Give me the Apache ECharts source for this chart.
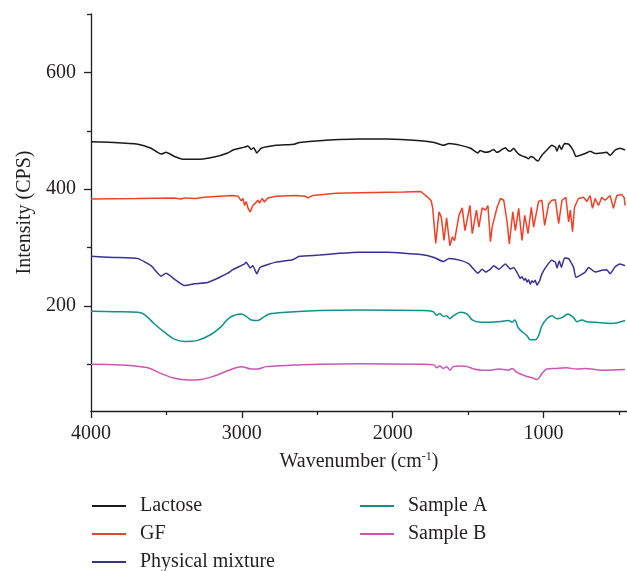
<!DOCTYPE html>
<html><head><meta charset="utf-8">
<script src="https://cdn.jsdelivr.net/npm/echarts@6/dist/echarts.min.js"></script>
<style>html,body{margin:0;padding:0;background:#fff}#c{width:627px;height:571px}</style>
</head><body><div id="c"></div>
<script>
const seriesNames = ['Lactose', 'GF', 'Physical mixture', 'Sample A', 'Sample B'];
const yLabelValues = [200, 400, 600];
const yMinorValues = [100, 300, 500, 700];
const xLabelValues = [4000, 3000, 2000, 1000];
const xMinorValues = [3500, 2500, 1500, 500];

const lactose = [[4000,481],[3850,480],[3689,477],[3602,470],[3535,460],[3502,463],[3447,456],[3381,451],[3293,451],[3183,455],[3094,462],[3059,467],[2982,472],[2960,474],[2938,468],[2921,471],[2901,462],[2872,470],[2773,475],[2652,477],[2619,480],[2486,483],[2354,485],[2222,486],[2035,486],[1814,483],[1726,480],[1665,475],[1627,478],[1550,475],[1484,470],[1436,462],[1420,466],[1407,465],[1385,463],[1352,465],[1330,468],[1312,463],[1297,464],[1275,468],[1253,471],[1235,466],[1220,465],[1198,470],[1180,464],[1165,460],[1143,457],[1120,455],[1099,452],[1085,456],[1066,454],[1050,450],[1037,448],[1011,458],[978,467],[945,475],[922,472],[911,465],[896,475],[882,468],[861,478],[834,477],[801,465],[786,456],[724,461],[691,465],[658,461],[614,462],[581,463],[559,458],[526,467],[493,470],[460,467]];

const gf = [[4000,383],[3700,384],[3450,385],[3403,383],[3380,385],[3304,384],[3250,386],[3147,388],[3059,389],[3026,388],[3004,380],[2993,384],[2982,372],[2971,379],[2960,368],[2945,361],[2927,372],[2910,376],[2894,381],[2883,376],[2866,384],[2850,378],[2828,385],[2773,388],[2641,389],[2580,388],[2564,385],[2531,389],[2377,393],[2222,394],[1925,395],[1814,396],[1781,389],[1759,384],[1745,380],[1735,368],[1715,307],[1693,361],[1678,352],[1660,312],[1643,351],[1621,303],[1605,318],[1590,312],[1561,355],[1539,368],[1521,329],[1488,372],[1473,324],[1445,364],[1429,335],[1407,368],[1385,364],[1369,372],[1352,310],[1341,335],[1308,369],[1286,384],[1264,381],[1242,344],[1227,306],[1204,361],[1187,329],[1165,367],[1143,312],[1125,355],[1103,324],[1081,369],[1066,335],[1033,379],[1011,381],[993,338],[966,375],[945,381],[922,382],[900,341],[878,381],[852,386],[834,344],[823,364],[808,327],[795,369],[769,384],[735,386],[713,379],[691,389],[676,367],[658,384],[636,372],[614,386],[592,381],[559,389],[537,367],[515,389],[482,391],[465,385],[460,372]];

const physMix = [[4000,285],[3850,283],[3689,281],[3602,269],[3535,251],[3502,256],[3447,246],[3381,235],[3315,238],[3227,240],[3147,249],[3094,256],[3059,262],[2982,272],[2971,275],[2945,265],[2927,269],[2901,255],[2879,266],[2773,275],[2663,279],[2619,285],[2486,287],[2354,290],[2222,292],[2035,292],[1814,288],[1726,283],[1665,276],[1627,281],[1550,278],[1495,272],[1436,256],[1407,263],[1385,258],[1352,263],[1330,269],[1297,263],[1253,272],[1220,263],[1198,266],[1165,252],[1155,247],[1143,250],[1130,244],[1120,247],[1110,241],[1099,245],[1088,237],[1077,243],[1066,240],[1055,244],[1045,236],[1037,238],[1025,244],[1011,255],[978,269],[945,278],[922,275],[911,265],[896,277],[882,266],[861,282],[834,281],[801,266],[786,249],[724,258],[702,266],[658,258],[614,261],[581,262],[559,255],[526,267],[493,272],[460,269]];

const sampleA = [[4000,191],[3850,190],[3689,189],[3645,185],[3579,169],[3513,155],[3447,143],[3381,139],[3293,141],[3205,151],[3139,164],[3081,180],[3004,186],[2971,182],[2938,176],[2894,175],[2861,180],[2817,186],[2707,189],[2486,192],[2222,193],[1814,192],[1731,190],[1709,184],[1687,187],[1665,182],[1643,183],[1621,178],[1599,183],[1550,189],[1506,186],[1473,176],[1418,172],[1352,172],[1297,173],[1231,175],[1209,172],[1191,176],[1169,163],[1143,156],[1110,149],[1088,142],[1055,142],[1033,149],[1011,166],[978,178],[945,183],[911,178],[878,180],[839,186],[801,180],[779,173],[746,176],[713,173],[658,172],[548,170],[460,175]];

const sampleB = [[4000,100],[3800,99],[3623,94],[3535,84],[3447,76],[3359,73],[3271,74],[3183,80],[3094,89],[3004,96],[2938,92],[2894,92],[2839,96],[2707,98],[2486,100],[2222,101],[1814,100],[1726,99],[1709,94],[1687,97],[1665,93],[1643,96],[1621,90],[1599,96],[1550,97],[1506,96],[1462,92],[1407,90],[1352,90],[1297,92],[1231,90],[1209,93],[1176,86],[1121,80],[1077,77],[1044,74],[1011,84],[978,92],[922,93],[852,94],[779,92],[724,93],[614,90],[460,91]];

const seriesData = [lactose, gf, physMix, sampleA, sampleB];
const colors = ['#1a1a1a', '#ef4128', '#3a3290', '#11908b', '#cc55b4'];
const smoothing = [0.15, 0, 0.15, 0.35, 0.35];

const FONT = 'Liberation Serif';
const TXT = '#231f20';
const FS = 20;

const chart = echarts.init(document.getElementById('c'), null, {renderer: 'canvas'});
const axisLine = {show: true, lineStyle: {color: TXT, width: 1.3}};
const plain = v => String(v);
const legendBase = {
  orient: 'vertical', icon: 'rect', itemWidth: 34, itemHeight: 2, itemGap: 8, padding: 0, height: 120,
  textStyle: {fontFamily: FONT, fontSize: FS, color: TXT, lineHeight: 20, padding: [0, 0, 0, 9]}
};
chart.setOption({
  animation: false,
  backgroundColor: '#fff',
  grid: {left: 91, right: 0, top: 14, bottom: 160},
  xAxis: [{
    type: 'value', inverse: true, min: 447, max: 4000, position: 'bottom',
    axisLine: axisLine,
    axisTick: {show: true, length: 7, customValues: xLabelValues, lineStyle: {color: TXT, width: 1.3}},
    axisLabel: {customValues: xLabelValues, formatter: plain, fontFamily: FONT, fontSize: FS, color: TXT, margin: 13},
    splitLine: {show: false},
    name: 'Wavenumber (cm{sup|-1})', nameLocation: 'middle', nameGap: 40,
    nameTextStyle: {fontFamily: FONT, fontSize: FS, color: TXT,
      rich: {sup: {fontFamily: FONT, fontSize: 12, color: TXT, verticalAlign: 'top', padding: [0, 0, 9, 0]}}}
  }, {
    type: 'value', inverse: true, min: 447, max: 4000, position: 'bottom',
    axisLine: {show: false},
    axisTick: {show: true, length: 4, customValues: xMinorValues, lineStyle: {color: TXT, width: 1.3}},
    axisLabel: {show: false}, splitLine: {show: false}
  }],
  yAxis: [{
    type: 'value', min: 20, max: 700, position: 'left',
    axisLine: axisLine,
    axisTick: {show: true, length: 7, customValues: yLabelValues, lineStyle: {color: TXT, width: 1.3}},
    axisLabel: {customValues: yLabelValues, formatter: plain, fontFamily: FONT, fontSize: FS, color: TXT, margin: 15},
    splitLine: {show: false},
    name: 'Intensity (CPS)', nameLocation: 'middle', nameGap: 56, nameRotate: 90,
    nameTextStyle: {fontFamily: FONT, fontSize: FS, color: TXT}
  }, {
    type: 'value', min: 20, max: 700, position: 'left',
    axisLine: {show: false},
    axisTick: {show: true, length: 4, customValues: yMinorValues, lineStyle: {color: TXT, width: 1.3}},
    axisLabel: {show: false}, splitLine: {show: false}
  }],
  legend: [
    Object.assign({}, legendBase, {left: 92, top: 496, data: seriesNames.slice(0, 3)}),
    Object.assign({}, legendBase, {left: 360, top: 496, data: seriesNames.slice(3)})
  ],
  series: seriesNames.map((n, i) => ({
    name: n, type: 'line', xAxisIndex: 0, yAxisIndex: 0,
    data: seriesData[i], showSymbol: false, symbol: 'none',
    smooth: smoothing[i],
    color: colors[i],
    lineStyle: {color: colors[i], width: 1.5}
  }))
});
</script></body></html>
